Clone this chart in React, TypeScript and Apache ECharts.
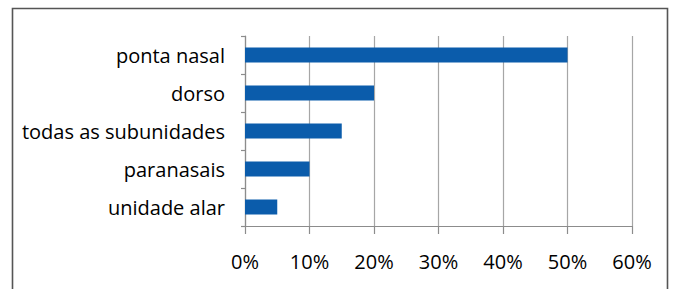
import React, { useEffect, useRef } from "react";
import * as echarts from "echarts";

const categories = ["ponta nasal", "dorso", "todas as subunidades", "paranasais", "unidade alar"];
const values = [50, 20, 15, 10, 5];
const xTicks = [0, 10, 20, 30, 40, 50, 60];

export default function App() {
  const ref = useRef<HTMLDivElement>(null);
  useEffect(() => {
    if (!ref.current) return;
    const chart = echarts.init(ref.current, undefined, { renderer: "svg" });
    chart.setOption({
      animation: false,
      backgroundColor: "#ffffff",
      textStyle: { fontFamily: "Open Sans" },
      grid: { left: 245, right: 42, top: 36, bottom: 63, containLabel: false },
      graphic: [
        {
          type: "rect",
          shape: { x: 12.5, y: 8.5, width: 655, height: 300 },
          style: { fill: "none", stroke: "#555555", lineWidth: 1.6 },
          silent: true,
        },
      ],
      xAxis: {
        type: "value",
        min: xTicks[0],
        max: xTicks[xTicks.length - 1],
        interval: 10,
        axisLine: { show: true, lineStyle: { color: "#8c8c8c", width: 1.2 } },
        axisTick: { show: true, length: 8, lineStyle: { color: "#8c8c8c", width: 1.2 } },
        splitLine: { show: true, lineStyle: { color: "#a6a6a6", width: 1.2 } },
        axisLabel: {
          formatter: (v: number) => v + "%",
          color: "#000000",
          fontSize: 20,
          fontFamily: "Open Sans",
          margin: 25,
        },
      },
      yAxis: {
        type: "category",
        data: categories,
        inverse: true,
        axisLine: { show: true, lineStyle: { color: "#8c8c8c", width: 1.2 } },
        axisTick: { show: true, length: 4, lineStyle: { color: "#8c8c8c", width: 1.2 } },
        axisLabel: {
          color: "#000000",
          fontSize: 20,
          fontFamily: "Open Sans",
          margin: 20,
        },
      },
      series: [
        {
          type: "bar",
          data: values,
          barWidth: 15,
          itemStyle: { color: "#0b5cab" },
        },
      ],
    });
    return () => chart.dispose();
  }, []);
  return (
    <div
      ref={ref}
      style={{ position: "fixed", left: 0, top: 0, width: 674, height: 289 }}
    />
  );
}
